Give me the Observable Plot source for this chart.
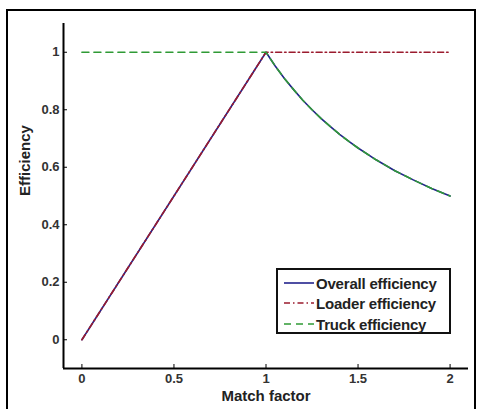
<!DOCTYPE html>
<html>
<head>
<meta charset="utf-8">
<script src="https://cdn.jsdelivr.net/npm/d3@7"></script>
<script src="https://cdn.jsdelivr.net/npm/@observablehq/plot@0.6"></script>
<style>
  html, body { margin: 0; padding: 0; background: #fff; }
  #wrap { position: relative; width: 480px; height: 409px; overflow: hidden; font-family: "Liberation Sans", Arial, sans-serif; }
  #frame { position: absolute; left: 6px; top: 9px; width: 470px; height: 420px; border: 2px solid #000; box-sizing: border-box; pointer-events: none; }
  #legend { position: absolute; left: 276px; top: 268px; width: 175px; height: 66px; border: 2px solid #111; box-sizing: border-box; background: #fff; }
  #legend .row { position: absolute; left: 0; height: 20px; display: flex; align-items: center; }
  #legend svg { width: 37px; height: 20px; flex: none; }
  #legend span { font-weight: bold; font-size: 15px; color: #222; margin-left: 1px; letter-spacing: -0.2px; }
</style>
</head>
<body>
<div id="wrap"><div id="chart"></div><div id="frame"></div><div id="legend"></div></div>
<script>
// ---- data ----
const matchFactor = [0, 0.5, 1, 1.05, 1.1, 1.15, 1.2, 1.25, 1.3, 1.35, 1.4, 1.45, 1.5, 1.6, 1.7, 1.8, 1.9, 2];
const overallEff  = [0, 0.5, 1, 0.952, 0.909, 0.870, 0.833, 0.800, 0.769, 0.741, 0.714, 0.690, 0.667, 0.625, 0.588, 0.556, 0.526, 0.5];
const loaderEff   = [0, 0.5, 1, 1, 1, 1, 1, 1, 1, 1, 1, 1, 1, 1, 1, 1, 1, 1];
const truckEff    = [1, 1, 1, 0.952, 0.909, 0.870, 0.833, 0.800, 0.769, 0.741, 0.714, 0.690, 0.667, 0.625, 0.588, 0.556, 0.526, 0.5];
const seriesNames = ["Overall efficiency", "Loader efficiency", "Truck efficiency"];
const seriesColors = ["#23238c", "#9b1b2e", "#2f9a35"];
const seriesDash = [null, "6,3,1.5,3", "7,5"];
const xTicks = [0, 0.5, 1, 1.5, 2];
const yTicks = [0, 0.2, 0.4, 0.6, 0.8, 1];
const xDomain = [-0.1, 2.1];
const yDomain = [-0.1, 1.1];
const xLabel = "Match factor";
const yLabel = "Efficiency";

const seriesValues = [overallEff, loaderEff, truckEff];
const rows = seriesNames.map((name, i) => matchFactor.map((x, j) => ({x, y: seriesValues[i][j], name})));

const W = 480, H = 409, mL = 63, mR = 12, mT = 23, mB = 41;
const plotW = W - mL - mR, plotH = H - mT - mB;
const font = "Liberation Sans, Arial, sans-serif";

const chart = Plot.plot({
  width: W, height: H,
  marginLeft: mL, marginRight: mR, marginTop: mT, marginBottom: mB,
  style: {fontFamily: font, background: "transparent", overflow: "visible"},
  x: {domain: xDomain},
  y: {domain: yDomain},
  marks: [
    ...rows.map((r, i) => Plot.line(r, {x: "x", y: "y", stroke: seriesColors[i], strokeWidth: 1.6, strokeDasharray: seriesDash[i], curve: "linear"})),
    Plot.tickX(xTicks, {x: d => d, stroke: "#000", strokeWidth: 1, insetTop: plotH - 4}),
    Plot.tickY(yTicks, {y: d => d, stroke: "#000", strokeWidth: 1, insetRight: plotW - 4}),
    Plot.ruleX([xDomain[0]], {stroke: "#000", strokeWidth: 2}),
    Plot.ruleY([yDomain[0]], {stroke: "#000", strokeWidth: 2}),
    Plot.axisX(xTicks, {tickSize: 0, tickPadding: 5, fontSize: 13, fontWeight: "bold", fill: "#333", label: null, tickFormat: d => String(d)}),
    Plot.axisY(yTicks, {tickSize: 0, tickPadding: 4, fontSize: 13, fontWeight: "bold", fill: "#333", label: null, tickFormat: d => String(d)}),
    Plot.text([xLabel], {frameAnchor: "bottom", dy: 32, fontSize: 15, fontWeight: "bold", fill: "#222", text: d => d}),
    Plot.text([yLabel], {frameAnchor: "left", dx: -38, rotate: -90, fontSize: 15, fontWeight: "bold", fill: "#222", text: d => d})
  ]
});
document.getElementById("chart").appendChild(chart);

// legend
const legend = document.getElementById("legend");
const rowTops = [3, 23, 44];
seriesNames.forEach((name, i) => {
  const row = document.createElement("div");
  row.className = "row";
  row.style.top = rowTops[i] + "px";
  row.innerHTML = `<svg viewBox="0 0 37 20"><line x1="6" x2="36" y1="10" y2="10" stroke="${seriesColors[i]}" stroke-width="1.6" ${seriesDash[i] ? `stroke-dasharray="${seriesDash[i]}"` : ""}/></svg><span>${name}</span>`;
  legend.appendChild(row);
});
</script>
</body>
</html>
